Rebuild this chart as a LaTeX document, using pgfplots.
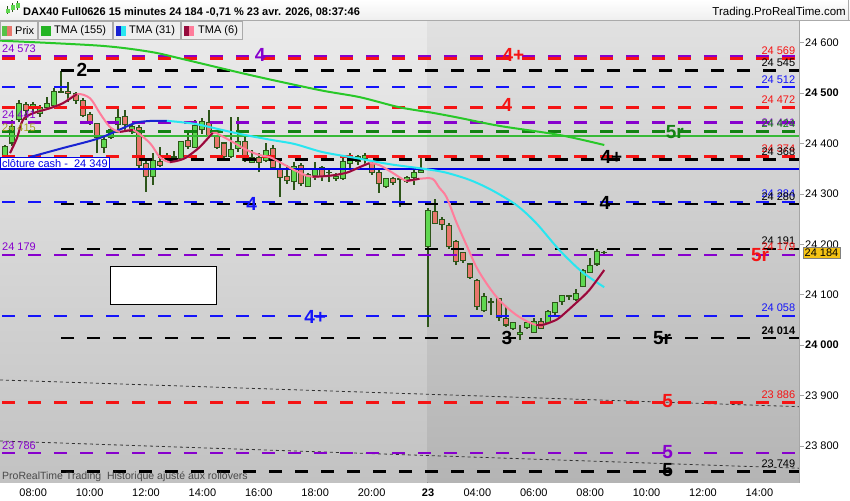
\documentclass[border=0pt]{standalone}
\usepackage{fontspec}
\setmainfont{Liberation Sans}
\usepackage{pgfplots}
\pgfplotsset{compat=1.18}
\usepackage{pgfplotstable}

\definecolor{wick}{RGB}{45,85,25}
\definecolor{cgreen}{RGB}{95,215,80}
\definecolor{cred}{RGB}{232,118,108}
\definecolor{lred}{RGB}{245,20,20}
\definecolor{lblue}{RGB}{20,20,250}
\definecolor{lpurple}{RGB}{135,0,205}
\definecolor{lgreen}{RGB}{20,130,20}
\definecolor{sgreen}{RGB}{55,185,55}
\definecolor{sblue}{RGB}{0,0,230}
\definecolor{tmagreen}{RGB}{40,200,40}
\definecolor{tmablue}{RGB}{25,35,210}
\definecolor{tmacyan}{RGB}{40,230,240}
\definecolor{tmadred}{RGB}{150,10,60}
\definecolor{tmapink}{RGB}{255,125,155}
\definecolor{olivetxt}{RGB}{165,165,30}
\definecolor{gold}{RGB}{245,195,20}
\definecolor{bgLtop}{RGB}{235,235,235}
\definecolor{bgLbot}{RGB}{194,194,194}
\definecolor{bgRtop}{RGB}{225,225,225}
\definecolor{bgRbot}{RGB}{180,180,180}
\definecolor{legbg}{RGB}{238,238,238}
\definecolor{legbd}{RGB}{170,170,170}

\newcommand\fs[1]{\fontsize{#1}{#1}\selectfont}

\pgfplotstableread{
i O H L C
0 24377 24398 24372 24395
1 24401 24447 24395 24433
2 24447 24486 24443 24480
4 24470 24482 24460 24478
5 24460 24476 24452 24472
6 24472 24492 24470 24480
7 24476 24510 24472 24504
14 24393 24413 24381 24407
15 24411 24431 24409 24427
16 24437 24470 24427 24451
18 24423 24439 24419 24433
21 24334 24381 24318 24367
23 24371 24381 24367 24377
24 24373 24385 24365 24375
25 24371 24405 24367 24403
27 24393 24447 24391 24435
28 24427 24451 24419 24443
32 24375 24453 24371 24389
33 24391 24453 24383 24403
35 24363 24387 24361 24373
37 24367 24401 24363 24387
41 24324 24363 24308 24355
43 24314 24342 24314 24338
44 24336 24363 24328 24351
47 24330 24342 24326 24334
48 24330 24377 24328 24365
49 24361 24381 24347 24367
50 24365 24377 24357 24375
51 24371 24381 24359 24377
54 24314 24332 24312 24330
57 24324 24336 24322 24332
58 24332 24347 24318 24342
59 24343 24373 24342 24347
60 24195 24272 24036 24268
68 24068 24103 24066 24096
72 24034 24046 24030 24044
73 24022 24040 24010 24026
74 24036 24046 24032 24044
75 24026 24054 24024 24046
77 24044 24070 24044 24066
78 24064 24086 24060 24084
79 24086 24100 24080 24098
80 24096 24100 24090 24098
81 24090 24111 24088 24102
82 24117 24151 24115 24149
83 24145 24173 24143 24159
84 24161 24191 24157 24185
85 24183 24187 24181 24184
}\greencandles

\pgfplotstableread{
i O H L C
3 24478 24482 24447 24466
8 24504 24544 24500 24502
9 24504 24522 24482 24500
10 24500 24502 24478 24486
11 24486 24490 24452 24456
12 24458 24462 24437 24441
13 24439 24441 24381 24411
17 24453 24466 24423 24437
19 24431 24437 24351 24357
20 24361 24367 24304 24334
22 24365 24393 24353 24357
26 24405 24421 24389 24395
29 24441 24466 24413 24415
30 24413 24417 24389 24393
31 24401 24403 24371 24375
34 24403 24413 24363 24367
36 24373 24381 24343 24363
38 24391 24397 24351 24353
39 24349 24367 24294 24332
40 24334 24357 24320 24326
42 24357 24361 24316 24320
45 24353 24355 24326 24334
46 24343 24351 24324 24342
52 24361 24367 24338 24342
53 24342 24347 24302 24320
55 24330 24334 24318 24322
56 24330 24334 24274 24328
61 24266 24290 24242 24242
62 24250 24254 24228 24240
63 24238 24242 24191 24195
64 24205 24208 24159 24165
65 24183 24185 24163 24167
66 24161 24163 24131 24135
67 24129 24131 24070 24076
69 24086 24094 24060 24084
70 24092 24094 24048 24054
71 24052 24076 24036 24040
76 24046 24054 24032 24034
}\redcandles

\pgfplotsset{
  hl/.style={line width=2.7pt, dash pattern=on 13pt off 13pt, dash phase=24pt},
  hlb/.style={line width=2.7pt, dash pattern=on 13pt off 13pt, black},
  wickst/.style={draw=none, mark=none, error bars/.cd, y dir=plus, y explicit, error mark=none,
     error bar style={line width=2pt, draw=wick}},
}
\tikzset{
  rl/.style={anchor=base east, yshift=4pt, inner sep=0pt, font=\fs{11}},
  ll/.style={anchor=base west, yshift=4pt, inner sep=0pt, font=\fs{11}},
  bl/.style={inner sep=0pt, font=\fs{19}\bfseries},
}

\begin{document}
\begin{tikzpicture}
\useasboundingbox (0,0) rectangle (850pt,500pt);
\fill[white] (0,0) rectangle (850pt,500pt);
\begin{axis}[
  at={(0pt,17.5pt)}, anchor=south west,
  scale only axis, width=799pt, height=461.5pt,
  xmin=-0.71, xmax=112.62, ymin=23727.6, ymax=24643,
  axis line style={draw=none},
  clip mode=individual,
  xtick={4,12,20,28,36,44,52,60,67,75,83,91,99,107},
  xticklabels={08:00,10:00,12:00,14:00,16:00,18:00,20:00,\textbf{23},04:00,06:00,08:00,10:00,12:00,14:00},
  xtick pos=bottom,
  x tick label style={font=\fs{11}, yshift=2pt},
  major x tick style={draw=none},
  ytick={23800,23900,24000,24100,24200,24300,24400,24500,24600},
  yticklabels={23 800,23 900,\textbf{24 000},24 100,24 200,24 300,24 400,\textbf{24 500},24 600},
  ytick pos=right, yticklabel pos=right,
  y tick label style={font=\fs{11}, anchor=west, inner sep=0pt, xshift=1pt},
  tick align=outside, major tick length=5pt,
  major y tick style={draw=gray!70, line width=0.6pt},
]
% background sessions
\fill[top color=bgLtop, bottom color=bgLbot] (axis cs:-0.71,23727.6) rectangle (axis cs:59.96,24643);
\fill[top color=bgRtop, bottom color=bgRbot] (axis cs:59.96,23727.6) rectangle (axis cs:112.62,24643);
\draw[black, fill=white, line width=0.8pt] (axis cs:14.89,24080) rectangle (axis cs:29.93,24157);

% candles: wicks
\addplot[wickst] table[x=i, y=L, y error plus expr=\thisrow{H}-\thisrow{L}] \greencandles;
\addplot[wickst] table[x=i, y=L, y error plus expr=\thisrow{H}-\thisrow{L}] \redcandles;
% bodies outer
\addplot[draw=none, mark=none, error bars/.cd, y dir=plus, y explicit, error mark=none,
  error bar style={line width=6pt, draw=wick}]
  table[x=i, y expr=\thisrow{O}-1, y error plus expr=\thisrow{C}-\thisrow{O}+2] \greencandles;
\addplot[draw=none, mark=none, error bars/.cd, y dir=plus, y explicit, error mark=none,
  error bar style={line width=6pt, draw=wick}]
  table[x=i, y expr=\thisrow{C}-1, y error plus expr=\thisrow{O}-\thisrow{C}+2] \redcandles;
% bodies inner
\addplot[draw=none, mark=none, error bars/.cd, y dir=plus, y explicit, error mark=none,
  error bar style={line width=4pt, draw=cgreen}]
  table[x=i, y expr=\thisrow{O}+1, y error plus expr={max(\thisrow{C}-\thisrow{O}-2,0)}] \greencandles;
\addplot[draw=none, mark=none, error bars/.cd, y dir=plus, y explicit, error mark=none,
  error bar style={line width=4pt, draw=cred}]
  table[x=i, y expr=\thisrow{C}+1, y error plus expr={max(\thisrow{O}-\thisrow{C}-2,0)}] \redcandles;

% sloped dotted lines
\addplot[black!80, line width=0.8pt, dash pattern=on 3pt off 3pt] coordinates {(-0.71,23931) (112.62,23878)};
\addplot[black!80, line width=0.8pt, dash pattern=on 3pt off 3pt] coordinates {(-0.71,23810) (112.62,23756)};

% horizontal levels
\addplot[hl, lpurple] coordinates {(-0.71,24573) (112.62,24573)};
\addplot[hl, lred] coordinates {(-0.71,24569) (112.62,24569)};
\addplot[hlb] coordinates {(8,24545) (112.62,24545)};
\addplot[hl, lblue] coordinates {(-0.71,24512) (112.62,24512)};
\addplot[hl, lred] coordinates {(-0.71,24472) (112.62,24472)};
\addplot[hl, lpurple] coordinates {(-0.71,24441) (112.62,24441)};
\addplot[hl, lgreen] coordinates {(-0.71,24424) (112.62,24424)};
\addplot[sgreen, line width=2.5pt] coordinates {(-0.71,24415) (112.62,24415)};
\addplot[hl, lred] coordinates {(-0.71,24374) (112.62,24374)};
\addplot[hlb] coordinates {(19,24368) (112.62,24368)};
\addplot[sblue, line width=2.5pt] coordinates {(-0.71,24349) (112.62,24349)};
\addplot[hl, lblue] coordinates {(-0.71,24284) (112.62,24284)};
\addplot[hlb] coordinates {(8,24280) (112.62,24280)};
\addplot[hlb] coordinates {(8,24191) (112.62,24191)};
\addplot[hl, lpurple] coordinates {(-0.71,24179) (112.62,24179)};
\addplot[hl, lblue] coordinates {(-0.71,24058) (112.62,24058)};
\addplot[hlb] coordinates {(8,24014) (112.62,24014)};
\addplot[hl, lred] coordinates {(-0.71,23886) (112.62,23886)};
\addplot[hl, lpurple] coordinates {(-0.71,23786) (112.62,23786)};
\addplot[hlb] coordinates {(8,23749) (112.62,23749)};

% TMA 155
\addplot[tmagreen, line width=2pt, smooth] coordinates {
(-0.71,24604) (13.46,24594) (20.54,24582) (25.07,24568) (34.7,24536) (44.6,24506)
(50.3,24492) (55.9,24472) (60.6,24461) (64.4,24451) (70.1,24435) (78.6,24417) (85.0,24397)};
% TMA 31
\addplot[tmablue, line width=2pt, smooth] coordinates {
(3.5,24373) (8.22,24391) (13.46,24411) (18.13,24439) (19.9,24444) (21.53,24445) (22.95,24445)};
\addplot[tmacyan, line width=2pt, smooth] coordinates {
(22.95,24445) (26.91,24439) (30.74,24427) (33.99,24417) (37.82,24407) (41.08,24399)
(45.04,24383) (49.86,24371) (54.53,24359) (58.78,24351) (62.32,24343) (65.86,24328)
(68.98,24308) (72.52,24278) (75.35,24242) (78.61,24189) (81.87,24145) (84.99,24115)};
% TMA 6
\addplot[tmapink, line width=2pt, smooth] coordinates {
(0.71,24381) (1.70,24411) (2.55,24447) (3.97,24460) (6.37,24470) (8.22,24480) (10.20,24498)
(12.04,24490) (13.46,24460) (14.87,24433) (16.29,24423) (18.13,24427) (20.54,24401)
(21.95,24373) (23.37,24363) (24.79,24367) (25.78,24373) (27.62,24393) (29.46,24421)
(30.45,24417) (32.29,24403) (34.28,24387) (36.12,24377) (37.54,24373) (38.95,24363)
(41.08,24347) (42.78,24336) (43.63,24334) (46.03,24336) (48.44,24342) (50.28,24353)
(51.70,24361) (53.12,24357) (54.96,24342) (56.94,24326) (58.78,24330) (60.62,24330)
(61.61,24312) (62.61,24294) (64.02,24244) (65.44,24199) (66.86,24155) (68.27,24123)
(69.69,24096) (71.10,24076) (72.52,24060) (73.94,24048) (75.35,24040) (76.20,24040)
(77.48,24046) (78.61,24054) (81.02,24084) (82.86,24109) (84.99,24149)};
\addplot[tmadred, line width=2pt, smooth] coordinates {
(0.71,24381) (1.70,24411) (2.55,24447) (3.97,24460) (6.37,24470) (8.22,24480) (10.20,24498)};
\addplot[tmadred, line width=2pt] coordinates {(16.29,24423) (18.13,24427)};
\addplot[tmadred, line width=2pt, smooth] coordinates {
(23.37,24363) (24.79,24367) (25.78,24373) (27.62,24393) (29.46,24421)};
\addplot[tmadred, line width=2pt, smooth] coordinates {
(43.63,24334) (46.03,24336) (48.44,24342) (50.28,24353) (51.70,24361)};
\addplot[tmadred, line width=2pt] coordinates {(56.94,24326) (58.78,24330)};
\addplot[tmadred, line width=2pt, smooth] coordinates {
(75.35,24040) (76.20,24040) (77.48,24046) (78.61,24054) (81.02,24084) (82.86,24109) (84.99,24149)};

% right value labels
\node[rl, lred] at (axis cs:112.1,24569) {24 569};
\node[rl, black] at (axis cs:112.1,24545) {24 545};
\node[rl, lblue] at (axis cs:112.1,24512) {24 512};
\node[rl, lred] at (axis cs:112.1,24472) {24 472};
\node[rl, lpurple] at (axis cs:112.1,24426) {24 441};
\node[rl, lgreen] at (axis cs:112.1,24424) {24 424};
\node[rl, lred] at (axis cs:112.1,24374) {24 374};
\node[rl, black] at (axis cs:112.1,24368) {24 368};
\node[rl, lblue] at (axis cs:112.1,24284) {24 284};
\node[rl, black] at (axis cs:112.1,24280) {24 280};
\node[rl, black] at (axis cs:112.1,24191) {24 191};
\node[rl, lred] at (axis cs:112.1,24179) {24 179};
\node[rl, lblue] at (axis cs:112.1,24058) {24 058};
\node[rl, black, font=\fs{11}\bfseries] at (axis cs:112.1,24014) {24 014};
\node[rl, lred] at (axis cs:112.1,23886) {23 886};
\node[rl, black] at (axis cs:112.1,23749) {23 749};
% left value labels
\node[ll, lpurple] at (axis cs:-0.43,24573) {24 573};
\node[ll, lpurple] at (axis cs:-0.43,24441) {24 441};
\node[ll, olivetxt] at (axis cs:-0.43,24415) {24 415};
\node[ll, lpurple] at (axis cs:-0.43,24179) {24 179};
\node[ll, lpurple] at (axis cs:-0.43,23786) {23 786};
% cloture cash
\node[anchor=south west, draw=sblue, fill=white, line width=0.8pt, inner sep=1.6pt, text=sblue, font=\fs{11}]
  at (axis cs:-0.71,24349) {clôture cash -\ \ 24 349};
% big level labels
\node[bl, black] at (axis cs:10.9,24547) {2};
\node[bl, lpurple] at (axis cs:36.2,24575) {4};
\node[bl, lred] at (axis cs:72.1,24575) {4+};
\node[bl, lred] at (axis cs:71.2,24476) {4};
\node[bl, lgreen] at (axis cs:95.0,24423) {5r};
\node[bl, black] at (axis cs:86.0,24373) {4+};
\node[bl, lblue] at (axis cs:35.0,24280) {4};
\node[bl, black] at (axis cs:85.1,24282) {4};
\node[bl, lred] at (axis cs:107.1,24179) {5r};
\node[bl, lblue] at (axis cs:44.0,24056) {4+};
\node[bl, black] at (axis cs:71.2,24014) {3};
\node[bl, black] at (axis cs:93.2,24014) {5r};
\node[bl, lred] at (axis cs:94.0,23889) {5};
\node[bl, lpurple] at (axis cs:94.0,23788) {5};
\node[bl, black] at (axis cs:94.0,23752) {5};
% current price
\node[anchor=west, fill=gold, draw=gray, inner sep=1.5pt, font=\fs{11}, xshift=4pt] at (axis cs:112.62,24184) {24 184};
\end{axis}
% right axis line
\draw[gray!70, line width=0.8pt] (799pt,17.5pt) -- (799pt,479pt);
% bottom-left note
\node[anchor=west, inner sep=0pt, font=\fs{10.5}, text=black!80, opacity=0.85] at (2pt,23.3pt) {ProRealTime Trading\ \ Historique ajusté aux rollovers};
% header
\shade[top color=white, bottom color=legbg] (0,479.5pt) rectangle (850pt,500pt);
\draw[legbd, line width=0.8pt] (0,479.5pt) -- (850pt,479.5pt);
\draw[legbd, line width=0.8pt] (848.5pt,479.5pt) -- (848.5pt,500pt);
% small icon
\fill[wick] (7pt,486pt) rectangle (8pt,494pt);
\fill[cgreen] (5.5pt,487pt) rectangle (9.5pt,491pt);
\fill[wick] (12pt,488pt) rectangle (13pt,497pt);
\fill[cgreen] (10.5pt,490pt) rectangle (14.5pt,495pt);
\fill[wick] (17pt,490pt) rectangle (18pt,499pt);
\fill[cgreen] (15.5pt,492pt) rectangle (19.5pt,497pt);
\node[anchor=west, inner sep=0pt, font=\fs{11}\bfseries] at (23pt,487.7pt) {DAX40 Full0626 15 minutes 24 184 -0,71 \% 23 avr. 2026, 08:37:46};
\node[anchor=east, inner sep=0pt, font=\fs{11.5}] at (846pt,487.3pt) {Trading.ProRealTime.com};
% legend boxes
\draw[legbd, fill=legbg, line width=0.7pt] (0.4pt,460.7pt) rectangle (37pt,478.3pt);
\draw[legbd, fill=legbg, line width=0.7pt] (38pt,460.7pt) rectangle (112pt,478.3pt);
\draw[legbd, fill=legbg, line width=0.7pt] (113pt,460.7pt) rectangle (180pt,478.3pt);
\draw[legbd, fill=legbg, line width=0.7pt] (181pt,460.7pt) rectangle (242pt,478.3pt);
\fill[cgreen!90!black] (2pt,464pt) rectangle (7pt,474pt);
\fill[cred] (7pt,464pt) rectangle (12pt,474pt);
\fill[tmagreen!90!black] (41pt,464pt) rectangle (51pt,474pt);
\fill[tmablue] (116pt,464pt) rectangle (121pt,474pt);
\fill[tmacyan] (121pt,464pt) rectangle (126pt,474pt);
\fill[tmadred] (184pt,464pt) rectangle (189pt,474pt);
\fill[tmapink] (189pt,464pt) rectangle (194pt,474pt);
\node[anchor=west, inner sep=0pt, font=\fs{11}] at (15pt,469.3pt) {Prix};
\node[anchor=west, inner sep=0pt, font=\fs{11}] at (54pt,469.3pt) {TMA (155)};
\node[anchor=west, inner sep=0pt, font=\fs{11}] at (129pt,469.3pt) {TMA (31)};
\node[anchor=west, inner sep=0pt, font=\fs{11}] at (198pt,469.3pt) {TMA (6)};
\end{tikzpicture}
\end{document}
